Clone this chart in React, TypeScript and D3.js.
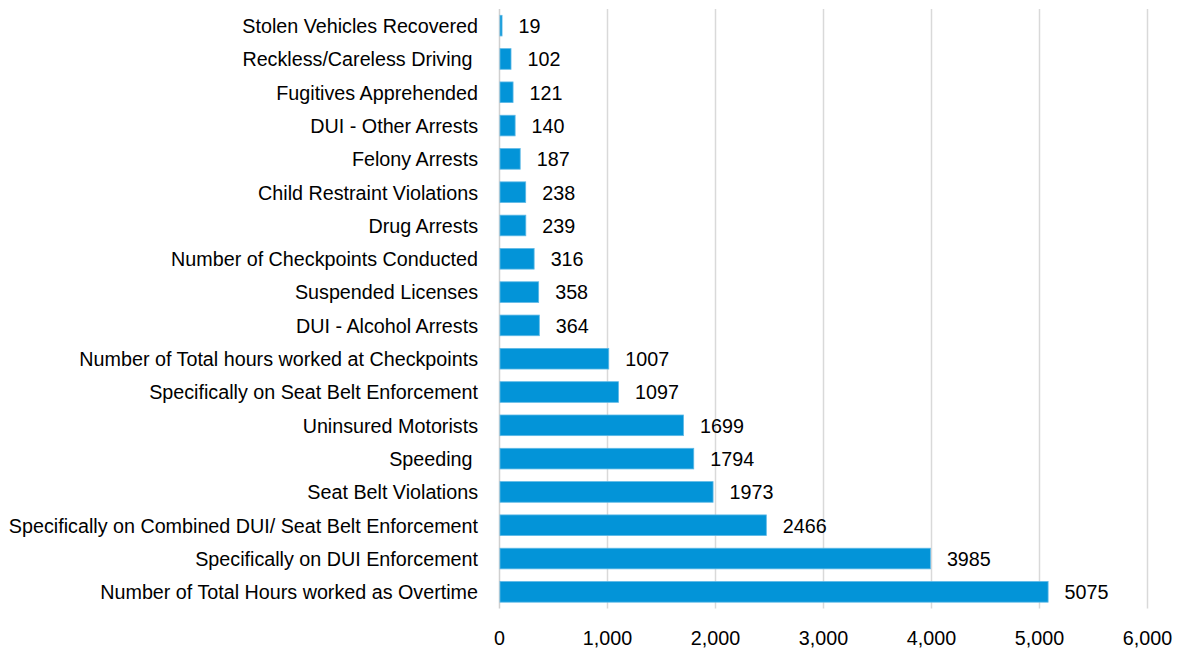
import React, { useEffect, useRef } from "react";
import * as d3 from "d3";

const categories = [
  "Stolen Vehicles Recovered",
  "Reckless/Careless Driving ",
  "Fugitives Apprehended",
  "DUI - Other Arrests",
  "Felony Arrests",
  "Child Restraint Violations",
  "Drug Arrests",
  "Number of Checkpoints Conducted",
  "Suspended Licenses",
  "DUI - Alcohol Arrests",
  "Number of Total hours worked at Checkpoints",
  "Specifically on Seat Belt Enforcement",
  "Uninsured Motorists",
  "Speeding ",
  "Seat Belt Violations",
  "Specifically on Combined DUI/ Seat Belt Enforcement",
  "Specifically on DUI Enforcement",
  "Number of Total Hours worked as Overtime",
];
const values = [19, 102, 121, 140, 187, 238, 239, 316, 358, 364, 1007, 1097, 1699, 1794, 1973, 2466, 3985, 5075];
const xTicks = [0, 1000, 2000, 3000, 4000, 5000, 6000];

const W = 1179;
const H = 649;
const FONT = "'Liberation Sans', Arial, sans-serif";
const FS = 21;
const SX = 0.94; // the source text is a little condensed

export default function App() {
  const ref = useRef<SVGSVGElement>(null);

  useEffect(() => {
    const svg = d3.select(ref.current);
    svg.selectAll("*").remove();

    const left = 499.5, right = 1147.5, top = 9, bottom = 608.5;

    const x = d3.scaleLinear().domain([0, 6000]).range([left, right]);
    const y = d3.scaleBand().domain(categories).range([top, bottom]).paddingInner(0.38).paddingOuter(0.19);

    // gridlines
    svg.append("g")
      .selectAll("line")
      .data(xTicks)
      .join("line")
      .attr("x1", d => x(d)).attr("x2", d => x(d))
      .attr("y1", top).attr("y2", bottom)
      .attr("stroke", d => d === 0 ? "#d0d0d0" : "#d9d9d9")
      .attr("stroke-width", 1.5);

    // bars
    svg.append("g")
      .selectAll("rect")
      .data(values)
      .join("rect")
      .attr("x", x(0) + 0.5)
      .attr("y", (d, i) => y(categories[i])!)
      .attr("width", d => x(d) - x(0))
      .attr("height", y.bandwidth())
      .attr("fill", "#0394d8")
      .attr("stroke", "#5fb9e6")
      .attr("stroke-width", 0.8);

    const txt = (g: any) => g
      .attr("font-family", FONT)
      .attr("font-size", FS)
      .attr("fill", "#000")
      .attr("dy", "0.35em");

    // value labels
    svg.append("g")
      .selectAll("text")
      .data(values)
      .join("text")
      .attr("transform", (d, i) => `translate(${x(d) + 17},${y(categories[i])! + y.bandwidth() / 2}) scale(${SX},1)`)
      .call(txt)
      .text(d => String(d));

    // category labels
    svg.append("g")
      .selectAll("text")
      .data(categories)
      .join("text")
      .attr("transform", d => `translate(478,${y(d)! + y.bandwidth() / 2}) scale(${SX},1)`)
      .attr("text-anchor", "end")
      .style("white-space", "pre")
      .call(txt)
      .text(d => d);

    // x tick labels
    svg.append("g")
      .selectAll("text")
      .data(xTicks)
      .join("text")
      .attr("transform", d => `translate(${x(d)},638) scale(${SX},1)`)
      .attr("text-anchor", "middle")
      .call(txt)
      .text(d => d3.format(",")(d));
  }, []);

  return (
    <svg
      ref={ref}
      width={W}
      height={H}
      style={{ position: "absolute", left: 0, top: 0, background: "#fff" }}
    />
  );
}
